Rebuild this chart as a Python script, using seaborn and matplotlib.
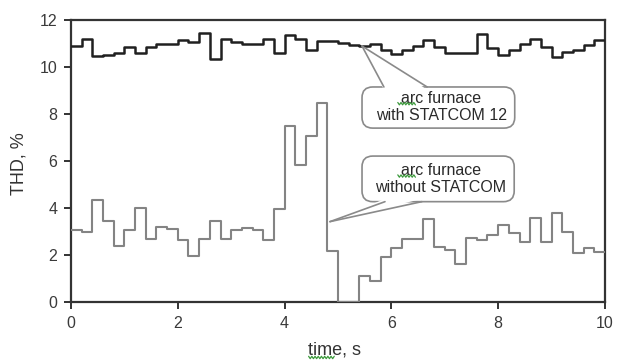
import numpy as np
import pandas as pd
import matplotlib
matplotlib.use("Agg")
import matplotlib.pyplot as plt
import seaborn as sns
from matplotlib.patches import FancyBboxPatch, Polygon

# THD sampled every 0.2 s over 10 s (step values, one per interval)
step_s = 0.2
thd_with_statcom = [
    10.90, 11.20, 10.45, 10.52, 10.58, 10.84, 10.60, 10.86, 10.96, 10.98,
    11.17, 11.05, 11.45, 10.35, 11.18, 11.06, 10.98, 10.98, 11.20, 10.58,
    11.36, 11.20, 10.74, 11.10, 11.10, 11.04, 10.92, 10.89, 10.99, 10.71,
    10.54, 10.71, 10.89, 11.13, 10.85, 10.61, 10.61, 10.61, 11.39, 10.82,
    10.50, 10.71, 10.99, 11.21, 10.85, 10.43, 10.64, 10.71, 10.92, 11.13,
]
thd_without_statcom = [
    3.07, 2.97, 4.36, 3.46, 2.40, 3.07, 4.00, 2.69, 3.19, 3.11,
    2.63, 1.97, 2.67, 3.46, 2.69, 3.07, 3.17, 3.07, 2.64, 3.97,
    7.47, 5.83, 7.07, 8.46, 2.19, 0.00, 0.00, 1.11, 0.90, 1.92,
    2.30, 2.66, 2.66, 3.55, 2.35, 2.21, 1.62, 2.71, 2.64, 2.85,
    3.28, 2.92, 2.57, 3.56, 2.57, 3.80, 2.96, 2.10, 2.28, 2.14,
]
x_ticks = [0, 2, 4, 6, 8, 10]
y_ticks = [0, 2, 4, 6, 8, 10, 12]
label_with = "arc furnace\nwith STATCOM 12"
label_without = "arc furnace\nwithout STATCOM"

sns.set_theme(style="white")
plt.rcParams["font.family"] = ["Liberation Sans", "DejaVu Sans"]

n = len(thd_with_statcom)
t = np.round(np.arange(n + 1) * step_s, 2)
df = pd.DataFrame({
    "time": np.concatenate([t, t]),
    "thd": thd_with_statcom + [thd_with_statcom[-1]]
           + thd_without_statcom + [thd_without_statcom[-1]],
    "case": ["with"] * (n + 1) + ["without"] * (n + 1),
})

fig = plt.figure(figsize=(6.17, 3.61), dpi=100)
ax = fig.add_axes([0.1151, 0.1634, 0.8654, 0.7812])

sns.lineplot(data=df[df.case == "without"], x="time", y="thd", ax=ax,
             color="#848484", lw=1.5, drawstyle="steps-post", zorder=3)
sns.lineplot(data=df[df.case == "with"], x="time", y="thd", ax=ax,
             color="#202020", lw=1.8, drawstyle="steps-post", zorder=4)

ax.set_xlim(0, 10)
ax.set_ylim(0, 12)
ax.set_xticks(x_ticks)
ax.set_yticks(y_ticks)
ax.set_xticklabels([str(v) for v in x_ticks])
ax.set_yticklabels([str(v) for v in y_ticks])
ax.tick_params(direction="out", length=5, width=1.4, color="#333333",
               labelsize=11.5, labelcolor="#3a3a3a", pad=5,
               bottom=True, left=True, top=False, right=False)
for sp in ax.spines.values():
    sp.set_visible(True)
    sp.set_color("#333333")
    sp.set_linewidth(1.6)

ax.set_xlabel("time, s", fontsize=13, color="#333333")
ax.set_ylabel("THD, %", fontsize=13, color="#333333")
ax.xaxis.set_label_coords(0.494, -0.14)
ax.yaxis.set_label_coords(-0.082, 0.49)

# callout boxes: rounded box plus a wedge pointing at the curve
aspect = (12 / 282) / (10 / 534)


def callout(x0, x1, y0, y1, tip, base_l, base_r, text, ty):
    box = FancyBboxPatch((x0, y0), x1 - x0, y1 - y0,
                         boxstyle="round,pad=0,rounding_size=0.2",
                         mutation_aspect=aspect, facecolor="white",
                         edgecolor="#8a8a8a", lw=1.2, zorder=6)
    ax.add_patch(box)
    inward = 0.12 if base_l[1] >= y1 - 1e-6 else -0.12
    wedge = Polygon([tip, (base_l[0], base_l[1] - inward),
                     (base_r[0], base_r[1] - inward)],
                    closed=True, facecolor="white", edgecolor="none", zorder=7)
    ax.add_patch(wedge)
    for b in (base_l, base_r):
        ax.plot([tip[0], b[0]], [tip[1], b[1]], color="#8a8a8a", lw=1.2,
                zorder=8, solid_capstyle="round")
    ax.text((x0 + x1) / 2 + 0.05, ty, text, ha="center", va="center",
            fontsize=11.5, color="#2a2a2a", linespacing=1.15, zorder=9)


def squiggle(xa, xb, y, amp=0.05, period=0.06):
    # wavy proofing underline beneath a word
    xs = np.arange(xa, xb + 1e-9, period / 2)
    ys = y + amp * np.where(np.arange(len(xs)) % 2 == 0, 1, -1)
    ax.plot(xs, ys, color="#3c9a3c", lw=0.9, zorder=10, clip_on=False)


callout(5.45, 8.31, 7.40, 9.15, (5.45, 10.89), (5.86, 9.15), (6.67, 9.15),
        label_with, 8.31)
callout(5.45, 8.30, 4.27, 6.21, (4.85, 3.42), (5.88, 4.27), (6.57, 4.27),
        label_without, 5.23)

squiggle(6.12, 6.46, 8.44)
squiggle(6.12, 6.46, 5.36)
squiggle(4.45, 4.95, -2.36)

fig.savefig("out.png", dpi=100)
